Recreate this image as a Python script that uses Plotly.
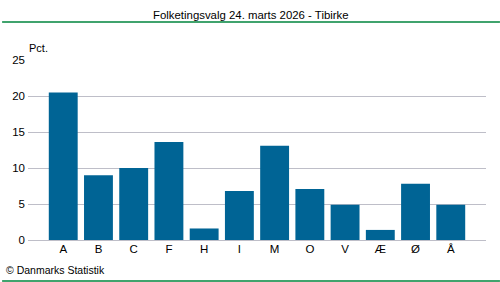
import plotly.graph_objects as go

categories = ["A", "B", "C", "F", "H", "I", "M", "O", "V", "Æ", "Ø", "Å"]
values = [20.5, 9.0, 10.0, 13.6, 1.6, 6.8, 13.1, 7.1, 4.9, 1.4, 7.8, 4.9]
y_ticks = [0, 5, 10, 15, 20, 25]
title_text = "Folketingsvalg 24. marts 2026 - Tibirke"
unit_text = "Pct."
source_text = "© Danmarks Statistik"

W, H = 500, 282
L, R, T, B = 26, 14, 60, 42
pw, ph = W - L - R, H - T - B

def px(x):
    return (x - L) / pw

def py(y):
    return (H - B - y) / ph

font = "Liberation Sans, Arial, sans-serif"
green = "#00843D"

fig = go.Figure(go.Bar(
    x=categories, y=values, marker=dict(color="#006495", line=dict(width=0)),
))

fig.update_layout(
    width=W, height=H,
    margin=dict(l=L, r=R, t=T, b=B),
    paper_bgcolor="white", plot_bgcolor="white",
    bargap=0.18,
    showlegend=False,
    font=dict(family=font, size=12, color="#000000"),
    xaxis=dict(range=[-1, len(categories)], showgrid=False, ticks="",
               showline=False, zeroline=False,
               tickfont=dict(size=11.5, color="#000000"), fixedrange=True),
    yaxis=dict(range=[0, 25], tickvals=y_ticks, showgrid=True,
               gridcolor="#BEBEC8", gridwidth=1, zeroline=True,
               zerolinecolor="#BEBEC8", zerolinewidth=1, ticks="",
               tickfont=dict(size=11.5, color="#000000"), ticklabelstandoff=2),
    shapes=[
        dict(type="line", xref="paper", yref="paper", x0=px(0), x1=px(W),
             y0=py(22), y1=py(22), line=dict(color=green, width=1.5)),
        dict(type="line", xref="paper", yref="paper", x0=px(0), x1=px(W),
             y0=py(281), y1=py(281), line=dict(color=green, width=1.5)),
    ],
    annotations=[
        dict(text=title_text, xref="paper", yref="paper", x=px(250), y=py(15),
             xanchor="center", yanchor="middle", showarrow=False,
             font=dict(size=11.4, color="#000000")),
        dict(text=unit_text, xref="paper", yref="paper", x=px(25), y=py(48),
             xanchor="left", yanchor="middle", showarrow=False,
             font=dict(size=11, color="#000000")),
        dict(text=source_text, xref="paper", yref="paper", x=px(2), y=py(270),
             xanchor="left", yanchor="middle", showarrow=False,
             font=dict(size=10.5, color="#000000")),
    ],
)

fig.write_html("out.html")
